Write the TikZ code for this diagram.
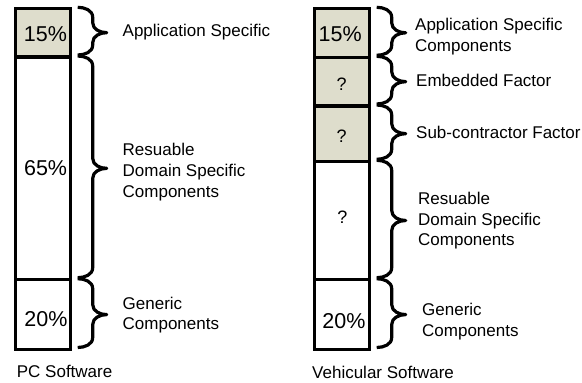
\documentclass[tikz,border=0pt]{standalone}
\usepackage{fontspec}
\setmainfont{Liberation Sans}
\usetikzlibrary{calc}

\definecolor{segfill}{RGB}{222,221,204}

% curly brace along the right side of a bar segment
\newcommand\segbrace[1]{%
  \draw[bracestyle] let \p1=(#1.north east), \p2=(#1.south east),
    \n1={(\y1+\y2)/2} in
    (\x1+7pt,\y1+1pt) to[out=0,in=90] (\x1+22pt,\y1-9pt)
    -- (\x1+22pt,\n1+10pt) to[out=-90,in=180] (\x1+36pt,\n1)
    to[out=180,in=90] (\x1+22pt,\n1-10pt)
    -- (\x1+22pt,\y2+12pt) to[out=-90,in=0] (\x1+7pt,\y2+2pt);}

\begin{document}
\begin{tikzpicture}[x=1pt,y=-1pt,
  seg/.style={rectangle, draw=black, line width=3.2pt, inner sep=0pt,
    outer sep=0pt, minimum width=55pt, anchor=north west},
  shaded/.style={fill=segfill},
  pct/.style={font=\fontsize{21.5}{25}\selectfont, inner sep=0pt, anchor=base},
  qmark/.style={font=\fontsize{18}{21}\selectfont, inner sep=0pt, anchor=base},
  lbl/.style={font=\fontsize{17}{20.7}\selectfont, inner sep=0pt,
    anchor=north west, align=left},
  bracestyle/.style={line width=3.2pt, line join=round, line cap=butt}]

\useasboundingbox (0,0) rectangle (582,383);

% PC software bar
\node[seg, shaded, minimum height=48.7pt] (l1) at (15.7,8.3) {};
\node[seg, minimum height=222.7pt] (l2) at (15.7,57) {};
\node[seg, minimum height=69.8pt] (l3) at (15.7,279.7) {};

% vehicular software bar
\node[seg, shaded, minimum height=49pt] (r1) at (314.7,8.3) {};
\node[seg, shaded, minimum height=48.7pt] (r2) at (314.7,57.3) {};
\node[seg, shaded, minimum height=55.3pt] (r3) at (314.7,106) {};
\node[seg, minimum height=118.4pt] (r4) at (314.7,161.3) {};
\node[seg, minimum height=69.8pt] (r5) at (314.7,279.7) {};

% shares
\node[pct] (pl1) at (45.5,41.7) {15\%};
\node[pct] (pl2) at (45.6,175) {65\%};
\node[pct] (pl3) at (45.9,326.7) {20\%};
\node[pct] (pr1) at (340.2,41) {15\%};
\node[qmark] (pr2) at (341.7,90) {?};
\node[qmark] (pr3) at (341.7,142) {?};
\node[qmark] (pr4) at (342.5,223) {?};
\node[pct] (pr5) at (343.9,328) {20\%};

% braces
\segbrace{l1}
\segbrace{l2}
\segbrace{l3}
\segbrace{r1}
\segbrace{r2}
\segbrace{r3}
\segbrace{r4}
\segbrace{r5}

% labels
\node[lbl] (tl1) at (122.5,24) {Application Specific};
\node[lbl] (tl2) at (122.5,143.3) {Resuable\\Domain Specific\\Components};
\node[lbl] (tl3) at (122.5,296.7) {Generic\\Components};
\node[lbl] (tr1) at (415,18.3) {Application Specific\\Components};
\node[lbl] (tr2) at (416,74) {Embedded Factor};
\node[lbl] (tr3) at (416,126) {Sub-contractor Factor};
\node[lbl] (tr4) at (418,192) {Resuable\\Domain Specific\\Components};
\node[lbl] (tr5) at (422,303) {Generic\\Components};

\node[lbl] (capl) at (16.7,365) {PC Software};
\node[lbl] (capr) at (312,366) {Vehicular Software};
\end{tikzpicture}
\end{document}
